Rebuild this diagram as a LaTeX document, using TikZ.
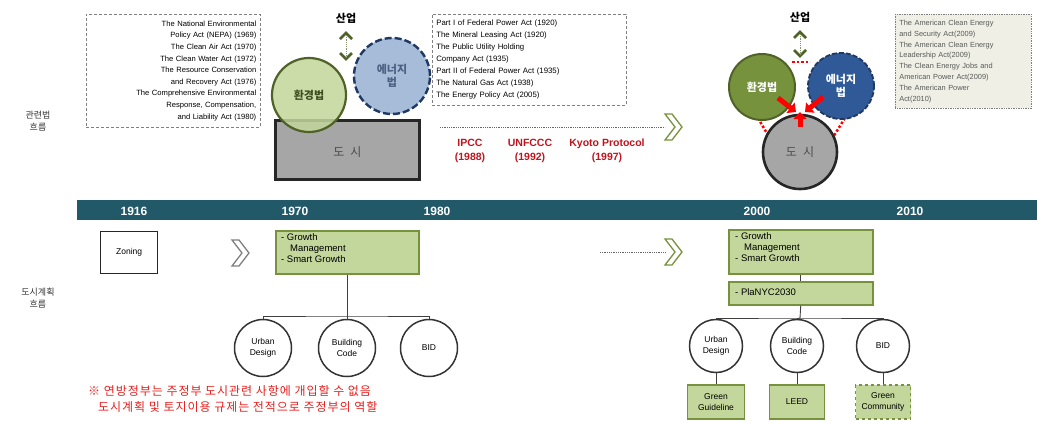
\documentclass[tikz,border=0pt]{standalone}
\usepackage{fontspec}
\setmainfont{Liberation Sans}
\newfontfamily\kr{Noto Sans CJK KR}
\newfontfamily\krwide[LetterSpace=8]{Noto Sans CJK KR}
\usetikzlibrary{arrows.meta,calc}
\definecolor{teal}{HTML}{215968}
\definecolor{lgreen}{HTML}{C3D69B}
\definecolor{mgreen}{HTML}{76923C}
\definecolor{dgreen}{HTML}{4F6228}
\definecolor{lblue}{HTML}{A7BCD8}
\definecolor{dblue}{HTML}{1F3864}
\definecolor{mblue}{HTML}{2F5A97}
\definecolor{gfill}{HTML}{A6A6A6}
\definecolor{box3}{HTML}{EFEFE6}
\definecolor{dred}{HTML}{C0141E}
\definecolor{bred}{HTML}{E8201E}
\definecolor{txtgray}{HTML}{595959}
\tikzset{
  lawbox/.style={draw=gray, densely dashed, line width=0.6pt, inner sep=4pt, font=\fontsize{7.6}{11.6}\selectfont},
  year/.style={text=white, font=\fontsize{12}{12}\selectfont\bfseries},
  planbox/.style={draw=mgreen, line width=1.5pt, fill=lgreen, font=\fontsize{9.5}{11.5}\selectfont, align=left, anchor=north west, inner sep=0pt},
  tool/.style={circle, draw=black!80, line width=1.5pt, fill=white, minimum size=57pt, inner sep=0pt, align=center, font=\fontsize{8.5}{11}\selectfont},
  gbox/.style={draw=mgreen, line width=1.5pt, fill=lgreen, minimum width=55pt, minimum height=33pt, inner sep=0pt, align=center, font=\fontsize{8.5}{11}\selectfont},
  yeartxt/.style={text=dred, font=\fontsize{10.5}{14}\selectfont\bfseries, align=center},
  side/.style={font=\kr\fontsize{9}{12}\selectfont, align=center, text=black!80},
  conn/.style={draw=black!75, line width=0.9pt},
  redarrow/.style={draw=red, line width=5pt, -{Triangle[width=13pt,length=7pt]}},
  reddot/.style={draw=red, line width=2.5pt, dotted},
}
\newcommand{\chev}[4]{% x y color name
  \draw[#3, line width=1.3pt, fill=white, line join=miter] (#1-8,#2-13) -- (#1-1,#2-13) -- (#1+9,#2) -- (#1-1,#2+13) -- (#1-8,#2+13) -- (#1+2,#2) -- cycle;
  \coordinate (#4) at (#1-8,#2);
}
\newcommand{\updown}[4]{% x ytop ybottom name
  \draw[dgreen, line width=2.6pt] (#1-6,#2+6) -- (#1,#2) -- (#1+6,#2+6);
  \draw[dgreen, line width=2.6pt] (#1-6,#3-6) -- (#1,#3) -- (#1+6,#3-6);
  \draw[dgreen!70, line width=0.8pt, densely dotted] (#1,#2+2) -- (#1,#3-2);
  \coordinate (#4) at (#1,#2);
}
\begin{document}
\begin{tikzpicture}[x=1pt,y=-1pt]
\useasboundingbox (0,0) rectangle (1037,421);
\fill[white] (0,0) rectangle (1037,421);

% side labels
\node[side] (lawflow) at (38,121) {관련법\\흐름};
\node[side] (planflow) at (38,298) {도시계획\\흐름};

% law box 1
\node[lawbox, align=right, anchor=north west, text width=166pt, minimum height=113pt] (box1) at (86,14) {The National Environmental\\Policy Act (NEPA) (1969)\\The Clean Air Act (1970)\\The Clean Water Act (1972)\\The Resource Conservation\\and Recovery Act (1976)\\The Comprehensive Environmental\\Response, Compensation,\\and Liability Act (1980)};

% left cluster
\node[font=\kr\fontsize{11}{11}\selectfont\bfseries] (ind1) at (346,18) {산업};
\updown{346}{33}{59}{ud1}
\node[circle, draw=dblue, dashed, dash pattern=on 7pt off 3pt, line width=2.4pt, fill=lblue, minimum size=76pt, inner sep=0pt, align=center, font=\kr\fontsize{11}{13}\selectfont\bfseries, text=dblue!80] (energy1) at (392,76) {에너지\\법};
\node[draw=black!85, line width=2.6pt, fill=gfill, minimum width=144pt, minimum height=59pt, inner sep=0pt, anchor=north west] (city1) at (274,119) {};
\node[font=\kr\fontsize{12}{12}\selectfont, text=black!70] (city1t) at ($(city1.center)+(0,2)$) {도\hspace{6pt}시};
\node[circle, draw=dgreen, line width=2.2pt, fill=lgreen, fill opacity=0.85, text opacity=1, minimum size=74pt, inner sep=0pt, font=\kr\fontsize{11}{11}\selectfont\bfseries, text=dgreen!80!black] (env1) at (309,95) {환경법};

% law box 2
\node[lawbox, align=left, anchor=north west, text width=186pt, minimum height=91pt, font=\fontsize{7.8}{12}\selectfont] (box2) at (432,14) {Part I of Federal Power Act (1920)\\The Mineral Leasing Act (1920)\\The Public Utility Holding\\Company Act (1935)\\Part II of Federal Power Act (1935)\\The Natural Gas Act (1938)\\The Energy Policy Act (2005)};

% dotted line and chevron (top)
\chev{673}{127}{mgreen}{chevtop}
\coordinate (dtop) at (440,127);
\draw[black!60, densely dotted, line width=0.8pt] (dtop) -- (chevtop);
\node[yeartxt] (ipcc) at (470,151) {IPCC\\(1988)};
\node[yeartxt] (unfccc) at (530,151) {UNFCCC\\(1992)};
\node[yeartxt] (kyoto) at (607,151) {Kyoto Protocol\\(1997)};

% right cluster
\node[font=\kr\fontsize{11}{11}\selectfont\bfseries] (ind2) at (800,17) {산업};
\updown{800}{32}{56}{ud2}
\coordinate (dl1) at (792,62); \coordinate (dl2) at (810,62);
\draw[reddot] (dl1) -- (dl2);
\coordinate (dl3) at (758,118); \coordinate (dl4) at (772,142);
\coordinate (dl5) at (845,118); \coordinate (dl6) at (830,142);
\draw[reddot] (dl3) -- (dl4);
\draw[reddot] (dl5) -- (dl6);
\node[circle, draw=dgreen, line width=2pt, fill=mgreen, minimum size=66pt, inner sep=0pt, font=\kr\fontsize{11}{11}\selectfont\bfseries, text=white] (env2) at (762,87) {환경법};
\node[circle, draw=dblue, dashed, dash pattern=on 5pt off 2pt, line width=1.8pt, fill=mblue, minimum size=66pt, inner sep=0pt, align=center, font=\kr\fontsize{11}{13}\selectfont\bfseries, text=white] (energy2) at (841,86) {에너지\\법};
\node[circle, draw=black!85, line width=2.6pt, fill=gfill, minimum size=74pt, inner sep=0pt, font=\kr\fontsize{12}{12}\selectfont, text=black!70] (city2) at (800,152) {도\hspace{6pt}시};
\coordinate (ra1) at (778,98); \coordinate (ra1e) at (796,112);
\coordinate (ra2) at (823,97); \coordinate (ra2e) at (805,112);
\coordinate (ra3) at (800,127); \coordinate (ra3e) at (800,112);
\draw[redarrow] (ra1) -- (ra1e);
\draw[redarrow] (ra2) -- (ra2e);
\draw[redarrow] (ra3) -- (ra3e);

% law box 3
\node[draw=gray, densely dotted, line width=0.7pt, fill=box3, text=txtgray, align=left, anchor=north west, text width=128pt, minimum height=94pt, inner sep=4pt, font=\fontsize{7.4}{10.8}\selectfont] (box3) at (895,14) {The American Clean Energy\\and Security Act(2009)\\The American Clean Energy\\Leadership Act(2009)\\The Clean Energy Jobs and\\American Power Act(2009)\\The American Power\\Act(2010)};

% timeline
\fill[teal] (77,200) rectangle (1037,220);
\node[year] (y1916) at (134,211) {1916};
\node[year] (y1970) at (295,211) {1970};
\node[year] (y1980) at (437,211) {1980};
\node[year] (y2000) at (757,211) {2000};
\node[year] (y2010) at (910,211) {2010};

% zoning
\node[draw=black!85, line width=1.3pt, minimum width=57pt, minimum height=42pt, inner sep=0pt, font=\fontsize{8.5}{10}\selectfont, anchor=north west] (zoning) at (100,231) {Zoning};
\chev{240}{253}{gray}{chevleft}

% 1970 plan
\node[planbox, minimum width=143pt, minimum height=43pt] (plan1) at (275,230) {};
\node[anchor=north west, align=left, font=\fontsize{9.5}{11.2}\selectfont, inner sep=0pt] (plan1t) at (281,233) {- Growth\\\hspace{9pt}Management\\- Smart Growth};
\node[tool] (ud70) at (263,348) {Urban\\Design};
\node[tool] (bc70) at (347,348) {Building\\Code};
\node[tool] (bid70) at (429,348) {BID};
\coordinate (j1) at (347,316);
\draw[conn] (plan1.south -| j1) -- (j1);
\draw[conn] (ud70.north) |- (j1) -| (bid70.north);
\draw[conn] (j1) -- (bc70.north);

% note
\node[anchor=north west, align=left, text=bred, font=\krwide\fontsize{12}{16}\selectfont, inner sep=0pt] (note) at (88,385) {※ 연방정부는 주정부 도시관련 사항에 개입할 수 없음\\\hspace{10pt}도시계획 및 토지이용 규제는 전적으로 주정부의 역할};

% 2000 plan
\chev{673}{252}{mgreen}{chevbot}
\coordinate (dbot) at (600,252);
\draw[black!60, densely dotted, line width=0.8pt] (dbot) -- (chevbot);
\node[planbox, minimum width=144pt, minimum height=44pt] (plan2) at (728,229) {};
\node[anchor=north west, align=left, font=\fontsize{9.5}{11.2}\selectfont, inner sep=0pt] (plan2t) at (735,232) {- Growth\\\hspace{9pt}Management\\- Smart Growth};
\node[planbox, minimum width=144pt, minimum height=23pt] (nyc) at (728,281) {};
\node[anchor=west, font=\fontsize{9.5}{11}\selectfont, inner sep=0pt] (nyct) at (735,292.5) {- PlaNYC2030};
\draw[conn] (plan2.south) -- (nyc.north);
\node[tool, minimum size=53pt] (ud00) at (716,346) {Urban\\Design};
\node[tool, minimum size=53pt] (bc00) at (797,346) {Building\\Code};
\node[tool, minimum size=53pt] (bid00) at (883,346) {BID};
\coordinate (j2) at (800,318);
\draw[conn] (nyc.south) -- (j2);
\draw[conn] (ud00.north) |- (j2) -| (bid00.north);
\draw[conn] (j2) -- (bc00.north);
\node[gbox, minimum width=57pt, minimum height=34pt, anchor=north] (gg) at (716,384) {Green\\Guideline};
\node[gbox, minimum width=55pt, minimum height=34pt, anchor=north] (leed) at (797,384) {LEED};
\node[gbox, dashed, minimum width=55pt, minimum height=34pt, anchor=north] (gc) at (883,384) {Green\\Community};
\draw[conn] (ud00.south) -- (gg.north);
\draw[conn] (bc00.south) -- (leed.north);
\draw[conn] (bid00.south) -- (gc.north);
\end{tikzpicture}
\end{document}
